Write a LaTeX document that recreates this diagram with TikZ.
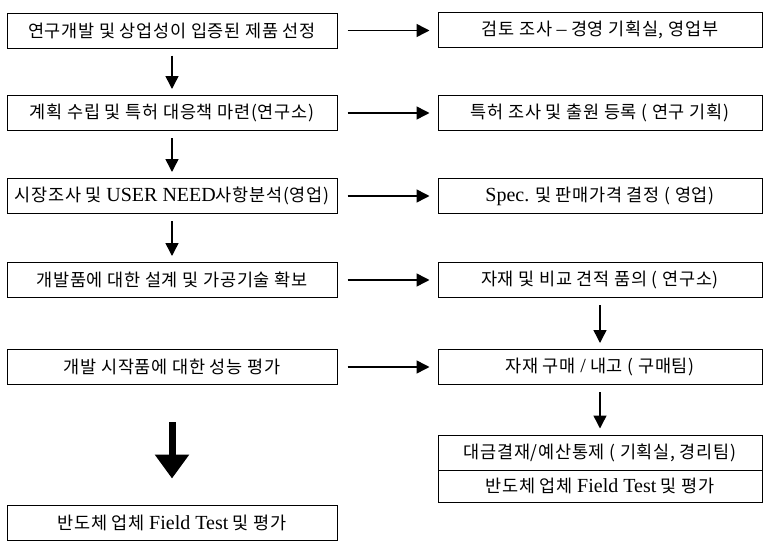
\documentclass[tikz,border=0pt]{standalone}
\usepackage{fontspec}
\setmainfont{Liberation Serif}
\newfontfamily\kr[LetterSpace=4]{Noto Sans CJK KR}
\newcommand{\lat}[1]{{\fontsize{20}{20}\selectfont #1}}
\usetikzlibrary{arrows.meta}
\tikzset{
  box/.style={draw=black, line width=1pt, minimum height=35pt, inner sep=0pt, font=\fontsize{17.5}{20}\selectfont},
  lbox/.style={box, minimum width=330pt},
  rbox/.style={box, minimum width=324pt},
  conn/.style={line width=1.5pt, -{Triangle[length=13pt,width=13pt]}},
  bigconn/.style={line width=7pt, -{Triangle[length=24pt,width=33pt]}},
}
\begin{document}
\begin{tikzpicture}[x=1pt,y=-1pt]
\useasboundingbox (0,0) rectangle (764,541);
% left column
\node[lbox] (L1) at (172,30.5) {\kr 연구개발 및 상업성이 입증된 제품 선정};
\node[lbox] (L2) at (172,113) {\kr 계획 수립 및 특허 대응책 마련(연구소)};
\node[lbox] (L3) at (172,196) {{\kr 시장조사 및} \lat{USER NEED}{\kr 사항분석(영업)}};
\node[lbox] (L4) at (172,280) {\kr 개발품에 대한 설계 및 가공기술 확보};
\node[lbox] (L5) at (172,367) {\kr 개발 시작품에 대한 성능 평가};
\node[lbox] (L6) at (172,522.5) {{\kr 반도체 업체} \lat{Field Test} {\kr 및 평가}};
% right column
\node[rbox] (R1) at (600,30) {{\kr 검토 조사} \lat{–} {\kr 경영 기획실, 영업부}};
\node[rbox] (R2) at (600,113) {\kr 특허 조사 및 출원 등록 ( 연구 기획)};
\node[rbox] (R3) at (600,196) {\lat{Spec.} {\kr 및 판매가격 결정 ( 영업)}};
\node[rbox] (R4) at (600,280) {\kr 자재 및 비교 견적 품의 ( 연구소)};
\node[rbox] (R5) at (600,367) {{\kr 자재 구매} \lat{/} {\kr 내고 ( 구매팀)}};
\node[rbox, minimum height=35pt] (R6a) at (600,452.5) {\kr 대금결재/예산통제 ( 기획실, 경리팀)};
\node[rbox, minimum height=32pt] (R6b) at (600,486) {{\kr 반도체 업체} \lat{Field Test} {\kr 및 평가}};
% vertical connectors left
\draw[conn, shorten <=7pt, shorten >=6pt] (L1.south) -- (L2.north);
\draw[conn, shorten <=7pt, shorten >=6pt] (L2.south) -- (L3.north);
\draw[conn, shorten <=7pt, shorten >=6pt] (L3.south) -- (L4.north);
\draw[bigconn, shorten <=37pt, shorten >=26pt] (L5.south) -- (L6.north);
% horizontal connectors
\foreach \i in {1,...,5}{
  \draw[conn, shorten <=10pt, shorten >=8pt] (L\i.east) -- (R\i.west |- L\i.east);
}
% vertical connectors right
\draw[conn, shorten <=7pt, shorten >=6pt] (R4.south) -- (R5.north);
\draw[conn, shorten <=7pt, shorten >=6pt] (R5.south) -- (R6a.north);
\end{tikzpicture}
\end{document}
